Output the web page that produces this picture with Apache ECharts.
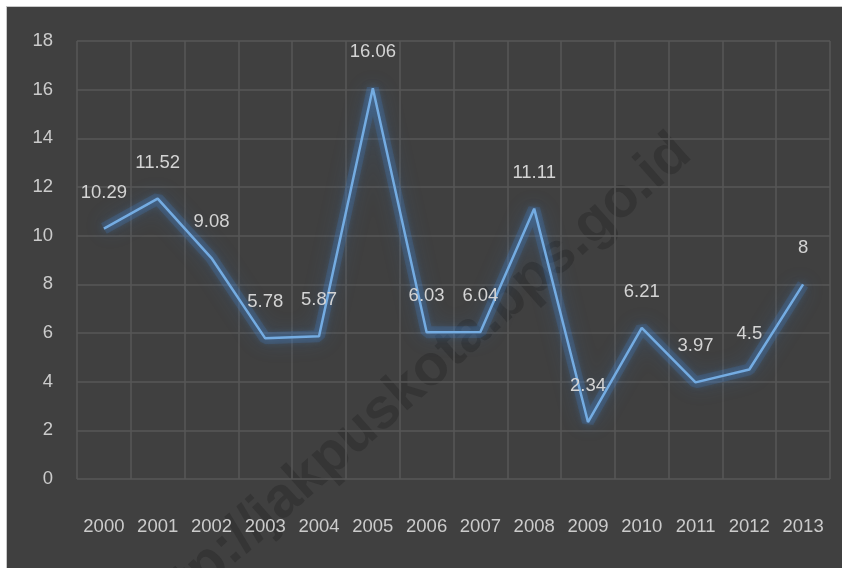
<!DOCTYPE html>
<html>
<head>
<meta charset="UTF-8">
<title>Chart</title>
<script src="https://cdn.jsdelivr.net/npm/echarts@6/dist/echarts.min.js"></script>
<style>
  html, body { margin: 0; padding: 0; background: #fff; }
  #chart {
    position: absolute; left: 6px; top: 6px;
    width: 835px; height: 561px;
    background: #404040;
    border-left: 1px solid #c8c8c8;
    border-top: 1px solid #c8c8c8;
  }
</style>
</head>
<body>
<div id="chart"></div>
<script>
// data
const years = ['2000', '2001', '2002', '2003', '2004', '2005', '2006',
               '2007', '2008', '2009', '2010', '2011', '2012', '2013'];
const values = [10.29, 11.52, 9.08, 5.78, 5.87, 16.06, 6.03,
                6.04, 11.11, 2.34, 6.21, 3.97, 4.5, 8];
const yTicks = [0, 2, 4, 6, 8, 10, 12, 14, 16, 18];

const FONT = '"Liberation Sans", sans-serif';
const chart = echarts.init(document.getElementById('chart'));

chart.setOption({
  backgroundColor: 'transparent',
  animation: false,
  grid: { left: 70, right: 12, top: 34, bottom: 89 },
  xAxis: {
    type: 'category',
    data: years,
    boundaryGap: true,
    axisLine: { show: false },
    axisTick: { show: false },
    axisLabel: { color: '#cbcbcb', fontSize: 18.5, fontFamily: FONT, margin: 38, interval: 0 },
    splitLine: { show: true, interval: 0, lineStyle: { color: '#575757', width: 1.5 } }
  },
  yAxis: {
    type: 'value',
    min: yTicks[0],
    max: yTicks[yTicks.length - 1],
    interval: 2,
    axisLine: { show: false },
    axisTick: { show: false },
    axisLabel: { color: '#cbcbcb', fontSize: 18.5, fontFamily: FONT, margin: 24 },
    splitLine: { lineStyle: { color: '#575757', width: 1.5 } }
  },
  graphic: [{
    type: 'text',
    x: 152, y: 640,
    rotation: 41.5 * Math.PI / 180,
    silent: true,
    z: -1,
    style: {
      text: 'http://jakpuskota.bps.go.id',
      fill: '#353535',
      font: 'bold 57px "Liberation Sans", sans-serif',
      textAlign: 'left',
      textVerticalAlign: 'bottom'
    }
  }],
  series: [
    {
      // soft glow under the line
      type: 'line',
      data: values,
      symbol: 'none',
      silent: true,
      z: 1,
      lineStyle: {
        color: 'rgba(65, 125, 195, 0.22)',
        width: 12,
        shadowColor: 'rgba(65, 130, 205, 0.8)',
        shadowBlur: 20
      }
    },
    {
      type: 'line',
      data: values,
      symbol: 'circle',
      symbolSize: 1,
      showSymbol: true,
      z: 3,
      itemStyle: { color: 'rgba(0,0,0,0)', borderWidth: 0 },
      lineStyle: {
        color: '#74ace2',
        width: 2.5,
        shadowColor: 'rgba(80, 150, 225, 0.8)',
        shadowBlur: 8
      },
      label: {
        show: true,
        position: 'top',
        distance: 26,
        color: '#d4d4d4',
        fontSize: 18.5,
        fontFamily: FONT
      }
    }
  ]
});
</script>
</body>
</html>
